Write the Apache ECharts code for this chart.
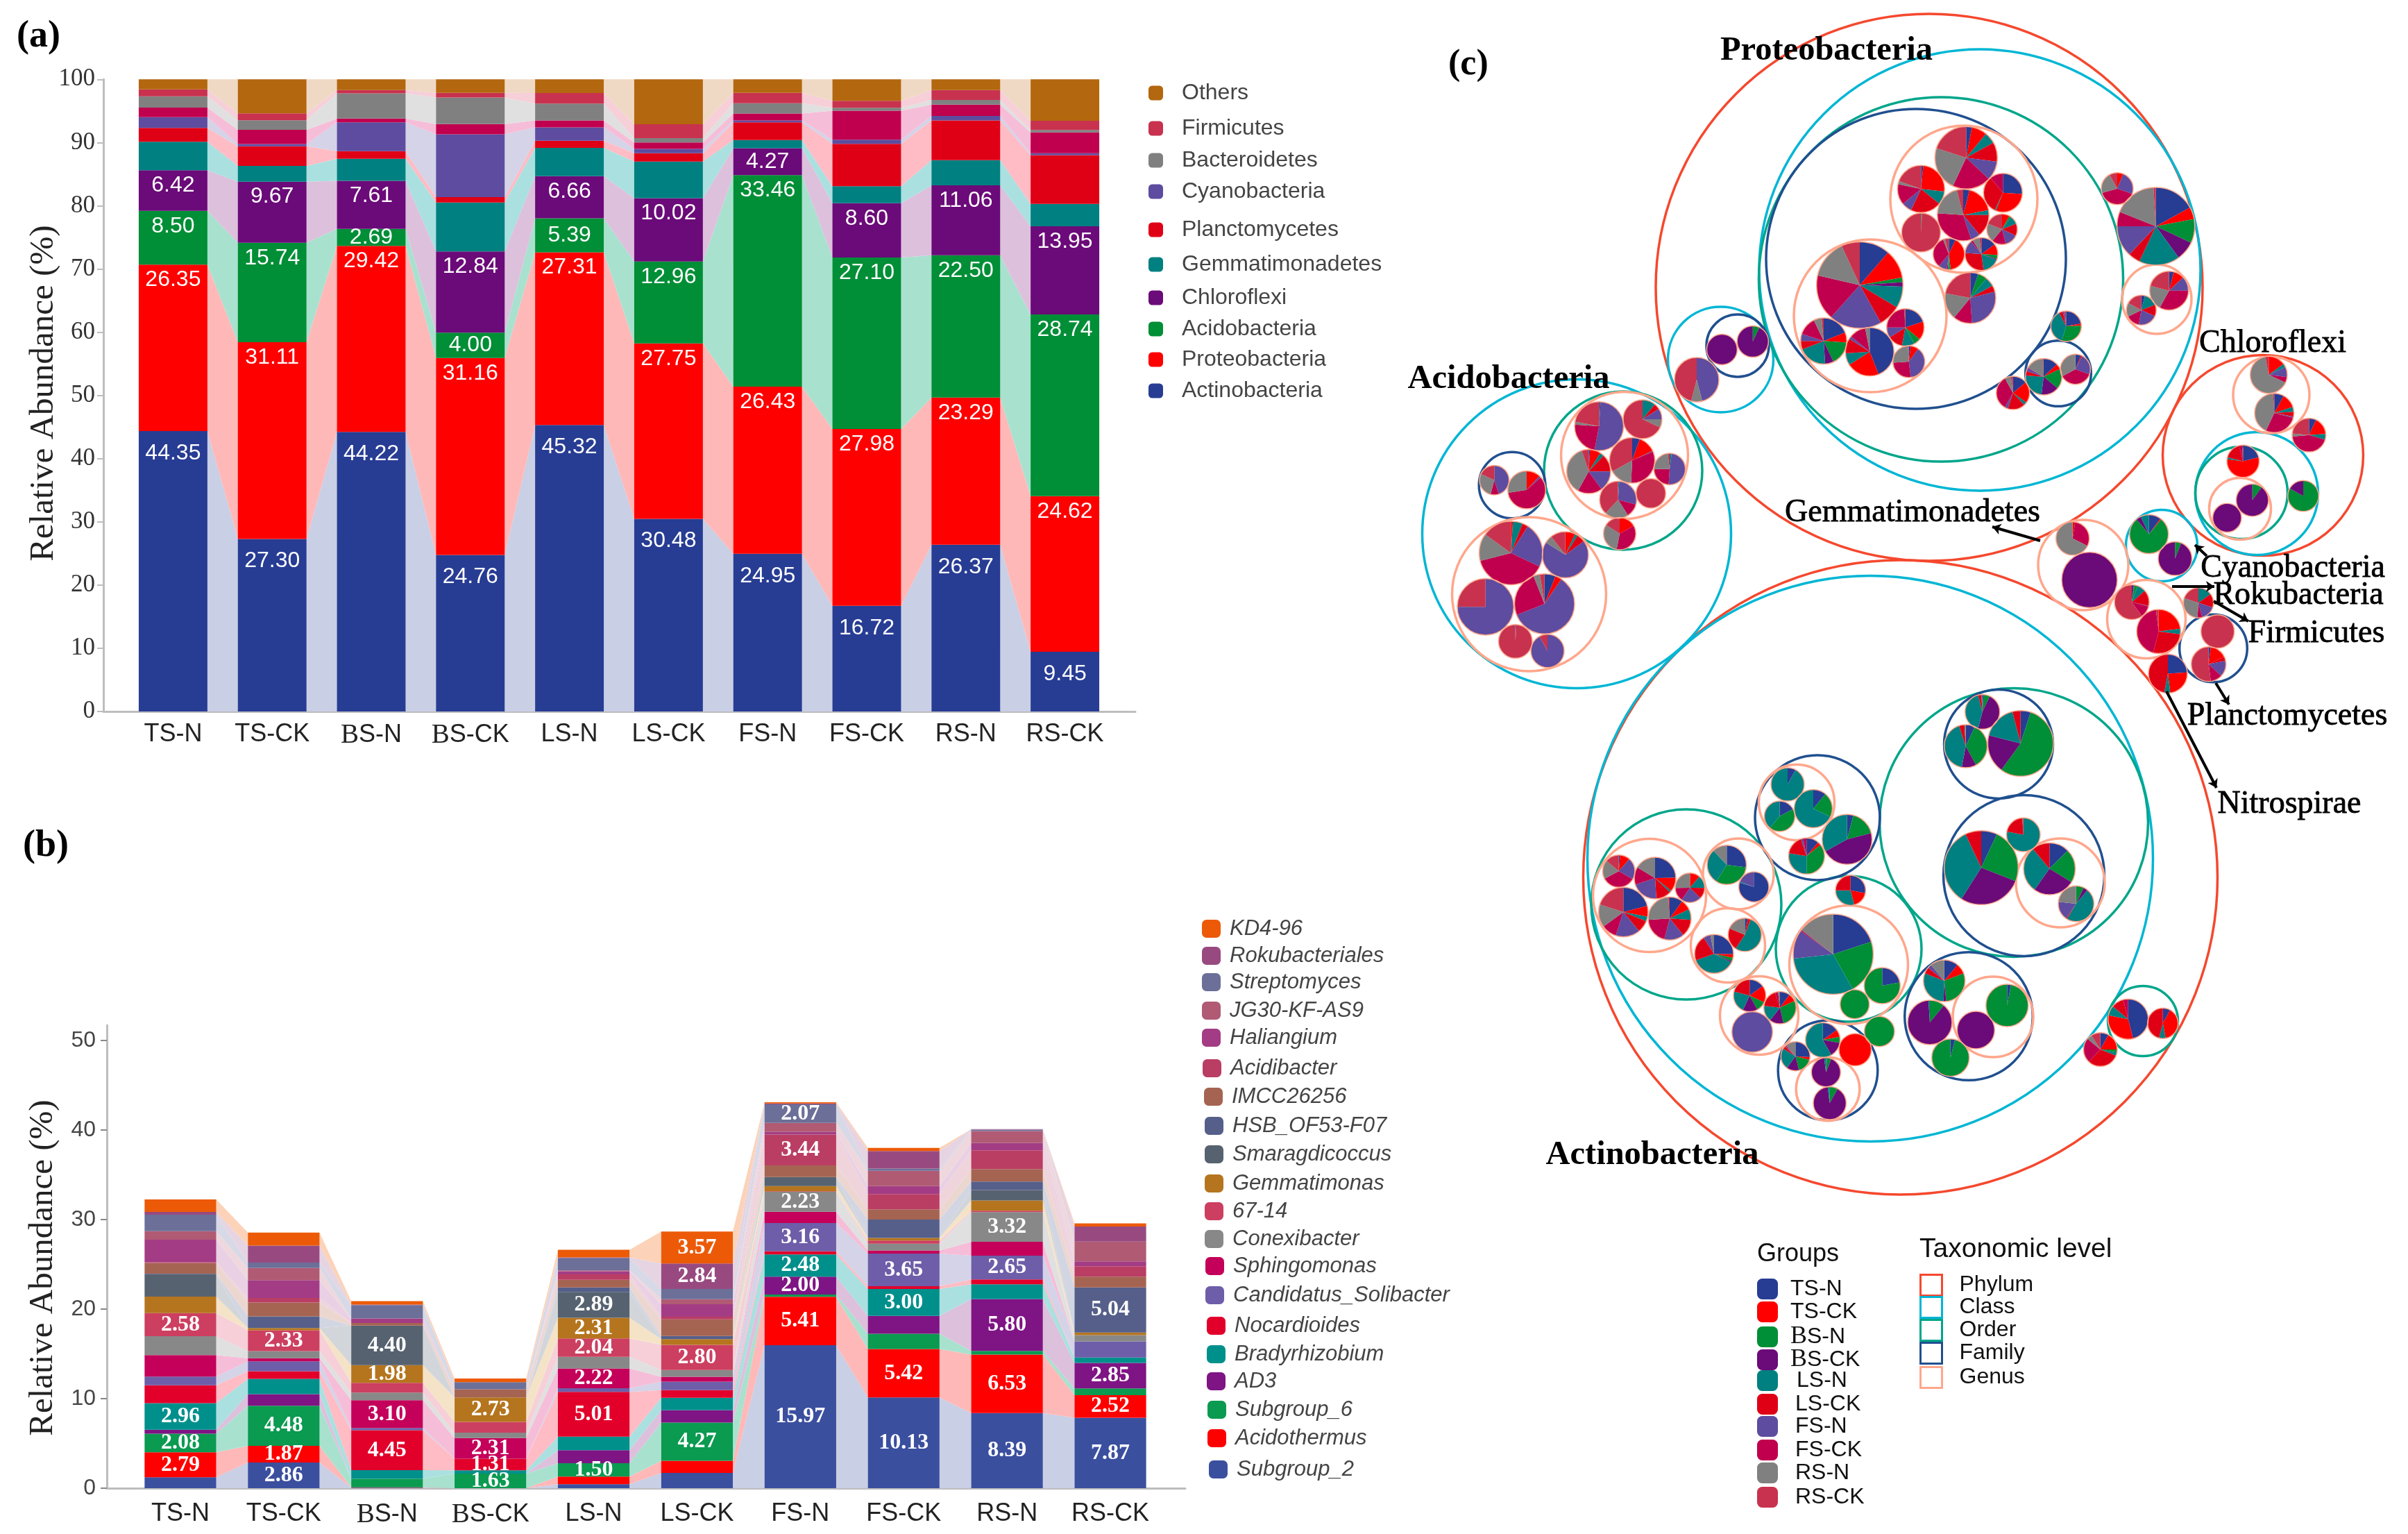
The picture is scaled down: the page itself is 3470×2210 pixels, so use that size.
<!DOCTYPE html>
<html>
<head>
<meta charset="utf-8">
<style>html,body{margin:0;padding:0;background:#fff}#c{width:3470px;height:2210px}</style>
<script src="https://cdn.jsdelivr.net/npm/echarts@6/dist/echarts.min.js"></script>
</head>
<body>
<div id="c"></div>
<script>
// ---------- DATA ----------
const samples = ['TS-N','TS-CK','BS-N','BS-CK','LS-N','LS-CK','FS-N','FS-CK','RS-N','RS-CK'];

// (a) phylum level, bottom to top
const actinobacteria  = [44.35,27.30,44.22,24.76,45.32,30.48,24.95,16.72,26.37,9.45];
const proteobacteria  = [26.35,31.11,29.42,31.16,27.31,27.75,26.43,27.98,23.29,24.62];
const acidobacteria   = [8.50,15.74,2.69,4.00,5.39,12.96,33.46,27.10,22.50,28.74];
const chloroflexi     = [6.42,9.67,7.61,12.84,6.66,10.02,4.27,8.60,11.06,13.95];
const gemmatimonadetes= [4.5,2.5,3.5,7.75,4.47,5.79,1.3,2.7,3.98,3.54];
const planctomycetes  = [2.2,3.1,1.2,0.85,1.15,1.3,2.8,6.7,6.3,7.7];
const cyanobacteria   = [1.7,0.35,4.55,9.95,2.1,0.7,0.3,0.65,0.7,0.3];
const unlistedPhylum  = [1.5,2.25,0.6,1.6,1.1,1.0,1.1,4.6,1.8,3.3];
const bacteroidetes   = [1.8,1.5,4.0,4.2,2.65,0.7,1.6,0.45,0.75,0.4];
const firmicutes      = [1.1,1.1,0.5,0.75,1.7,2.2,1.65,1.1,1.55,1.45];
const others          = [1.58,5.38,1.71,2.14,2.15,7.1,2.14,3.4,1.7,6.55];
const phylaNames = ['Actinobacteria','Proteobacteria','Acidobacteria','Chloroflexi','Gemmatimonadetes','Planctomycetes','Cyanobacteria','Unlisted phylum','Bacteroidetes','Firmicutes','Others'];
const phylaValues = [actinobacteria,proteobacteria,acidobacteria,chloroflexi,gemmatimonadetes,planctomycetes,cyanobacteria,unlistedPhylum,bacteroidetes,firmicutes,others];

// (b) genus level, bottom to top
const subgroup2   = [1.22,2.86,0.05,0,0.45,1.7,15.97,10.13,8.39,7.87];
const acidothermus= [2.79,1.87,0.05,0,0.85,1.36,5.41,5.42,6.53,2.52];
const subgroup6   = [2.08,4.48,0.95,1.63,1.50,4.27,0.25,1.7,0.4,0.75];
const ad3         = [0.45,1.3,0,0,1.45,1.4,2.00,2.0,5.80,2.85];
const bradyrhizobium=[2.96,1.7,0.97,0.36,1.5,1.37,2.48,3.00,1.65,0.6];
const nocardioides= [2.0,0.85,4.45,1.31,5.01,0.85,0.35,0.3,0.55,0];
const solibacter  = [0.97,1.1,0.25,0,0.4,0.95,3.16,3.65,2.65,1.8];
const sphingomonas= [2.4,0.35,3.10,2.31,2.22,0.55,1.25,0.35,1.55,0];
const conexibacter= [2.1,0.8,0.85,0.6,1.3,0.75,2.23,0.75,3.32,0.7];
const g6714       = [2.58,2.33,1.1,1.2,2.04,2.80,0.05,0.35,0.15,0];
const gemmatimonas= [1.85,0.25,1.98,2.73,2.31,0.65,0.6,0.3,1.15,0.3];
const smaragdicoccus=[2.5,0,4.40,0,2.89,0,1.0,0,1.15,0];
const hsb         = [0.05,1.3,0,0,0.5,0.35,0,2.05,0.95,5.04];
const imcc        = [1.2,1.55,0.3,0.9,0.85,1.85,1.3,1.15,1.4,1.2];
const acidibacter = [0.1,0.5,0,0,0.6,0.3,3.44,1.7,2.1,1.15];
const haliangium  = [2.5,2.0,0.5,0,0.35,1.4,0.3,0.9,0.8,0.55];
const jg30        = [0.95,1.35,0,0,0.1,0.55,1.0,1.7,1.35,2.2];
const streptomyces= [1.85,0.6,1.5,0.8,1.4,1.15,2.07,0.25,0.15,0];
const rokubacteriales=[0.3,1.9,0.05,0,0.05,2.84,0.1,1.95,0.05,1.7];
const kd496       = [1.4,1.45,0.4,0.4,0.85,3.57,0.15,0.35,0,0.35];
const generaNames = ['Subgroup_2','Acidothermus','Subgroup_6','AD3','Bradyrhizobium','Nocardioides','Candidatus_Solibacter','Sphingomonas','Conexibacter','67-14','Gemmatimonas','Smaragdicoccus','HSB_OF53-F07','IMCC26256','Acidibacter','Haliangium','JG30-KF-AS9','Streptomyces','Rokubacteriales','KD4-96'];
const generaValues = [subgroup2,acidothermus,subgroup6,ad3,bradyrhizobium,nocardioides,solibacter,sphingomonas,conexibacter,g6714,gemmatimonas,smaragdicoccus,hsb,imcc,acidibacter,haliangium,jg30,streptomyces,rokubacteriales,kd496];
// which genus carries a printed value, per sample
const generaLabelled = [
 ['Acidothermus','Subgroup_6','Bradyrhizobium','67-14'],
 ['Subgroup_2','Acidothermus','Subgroup_6','67-14'],
 ['Nocardioides','Sphingomonas','Gemmatimonas','Smaragdicoccus'],
 ['Subgroup_6','Nocardioides','Sphingomonas','Gemmatimonas'],
 ['Subgroup_6','Nocardioides','Sphingomonas','67-14','Gemmatimonas','Smaragdicoccus'],
 ['Subgroup_6','67-14','Rokubacteriales','KD4-96'],
 ['Subgroup_2','Acidothermus','AD3','Bradyrhizobium','Candidatus_Solibacter','Conexibacter','Acidibacter','Streptomyces'],
 ['Subgroup_2','Acidothermus','Bradyrhizobium','Candidatus_Solibacter'],
 ['Subgroup_2','Acidothermus','AD3','Candidatus_Solibacter','Conexibacter'],
 ['Subgroup_2','Acidothermus','AD3','HSB_OF53-F07']
];

// (c) packed circles: centre x, centre y, radius in the layout space of the panel
const phylumRings = [[2780,414,394],[2738.5,1264,457],[3261,656,144.5]];
const classRings  = [[2853,389,318],[2479.5,518,76],[2272,769,222.5],[2695,1237,407.5],[3252,711,88.5],[3115,786,51.5]];
const orderRings  = [[2797,402.5,262.5],[2339,678,114],[2902,1185,193.5],[2430,1303,137],[2664,1367,105],[3088,1471,50.5],[3230,710,66.5]];
const familyRings = [[2761,373,216],[2966,538,47.3],[2504,498,45],[2179,699,47.8],[2880,1072,78.5],[2916.5,1261.5,116],[2837,1464,92.3],[2619,1178,90],[2634,1542,71.8],[3189.5,934,48.8]];
const genusRings  = [[2830,287,106],[2695,455,110],[3108,431,50],[3273,569,55],[3228,733,44.5],[3002,814,65],[3093,892,56.5],[2341,656,91.5],[2203.5,856,111],[2377,1290,81.5],[2505,1259,51],[2490,1362,53.5],[2535,1463,56.5],[2664,1390,85.5],[2634,1569,45.8],[2872,1465,58],[2969,1272,64],[2589,1156,54.5]];
const pieCentres = [
 [2833.3,227.3,45],[2768.3,272.3,34],[2886.3,277.7,28],[2829,309.7,37.3],[2768.3,335,28],[2885,330.3,22],[2808.3,366,22.7],[2855.3,366,23.7],
 [2680,410.7,62.3],[2628,491.3,33.3],[2694.3,506.7,35],[2745.7,471.7,27],[2750.7,521,23],[2839.3,429.3,36.7],[2977.3,470,22],[2945,542.7,26.3],[2990.7,532,21.7],[2900.7,566,24],
 [3051,271.8,23],[3106.7,325.9,56],[3125.7,418.7,28],[3085.7,446.8,21.5],
 [3269.3,540,26.7],[3277.3,595,28.3],[3327.3,626.8,24.3],[3232.3,664.5,23.3],[3245.7,720.6,23.3],[3209.3,746,20.7],[3319,714.5,22.3],
 [2986.7,775.7,24],[3011,835.4,40],[3096.7,769.6,28],[3134.3,804.8,24.3],[3072,867.5,25],[3110.7,909.8,31.7],[3168,868.5,21.7],[3195.7,909.8,24],[3182.7,956.8,25],[3124,970.5,28],
 [2304.3,614,35.3],[2367,604,28],[2289.3,679.3,31.7],[2352,663.3,32.7],[2406,675.7,22.7],[2331.7,720,26.7],[2379,710.7,21.3],[2334,768.7,23.3],[2153.3,691.7,21.3],[2200,705.7,27.3],[2177.3,796.7,45.7],[2255.7,799.3,33.3],[2140.7,874.3,40.7],[2225.7,870,43.3],[2183.7,924,24.3],[2230,937.7,24],
 [2445,547,32],[2481.4,503.5,22],[2525.8,492,22.6],
 [2332.7,1255,23.3],[2385,1265,30],[2435.3,1279,21.3],[2339.3,1314,35.7],[2406,1323.3,31],[2488.3,1246,28.3],[2527.3,1277.7,21.7],[2470,1374.3,28],[2514.3,1346.7,24],[2521.3,1434.3,23.3],[2565,1451.7,23.3],[2525,1486.7,29.3],
 [2603.3,1233.3,26],[2661.7,1209.3,36],[2576,1130,24],[2613,1165,27.5],[2564.5,1176,22],[2666.7,1282.7,21.7],[2641.7,1374.7,57.7],[2712.3,1420,26],[2672.7,1446.7,21],[2708.3,1486,21.7],[2673.3,1512.3,23.3],[2587.3,1521.7,21],[2626.7,1498.3,25],[2631.3,1544.7,21],[2636.7,1589.3,23.7],
 [2856.7,1025.5,25],[2911.7,1071,47.3],[2832.7,1075,31],[2855,1250,53.3],[2915.7,1202.6,24.3],[2953.3,1251.6,37.3],[2991.7,1302,25.7],[2801.7,1413,30],[2781,1473,32],[2810.7,1523.7,27],[2847.3,1484,27],[2892.3,1448.5,30.5],
 [3066.7,1468.3,29],[3116.7,1474.3,22],[3026.7,1512,24.3]
];
// shares per pie, in order TS-N,TS-CK,BS-N,BS-CK,LS-N,LS-CK,FS-N,FS-CK,RS-N,RS-CK
const pieShares = [
 [3,8,0,0,6,10,10,20,23,20],[1.5,25,0,0,9,21,7,14,2.2,19.3],[26,30,0,0,1,32,0,11,0,0],[4,18,0,0,3,14,6,31,20,4],[0,0,0.8,0,0,0,0,0,0,99.2],[0,8,2,0,9,13,14,15,20,19],[7,41,2,0,1,1,9,33,2,4],[15,11,4,1,17,28,13,2,7,2],
 [11.4,10.8,1.7,1.7,8,8.3,19.7,17,14.5,6.9],[19,7,17,6,20,6,5,13,5.5,1.5],[44,22,0,0,8,10,2,11,3,0],[20,16,6,0,11,13,9,24,0,1],[2,8,0,0,0,0,38,26,25,1],[5,0,6,0,6,4,28,12,17,22],[22,2.5,30,0,38,4,2,0,0,1.5],[13,5,18,16,24,4,3,0.5,16,0.5],[6,0,0,0,0,1.5,23,37,33,0],[14,21,0,0,3,17,3,34,6,2],
 [0,6,0,0,0,0,24,40,21,8],[17,5,10,8,17,5,13,6,18,1],[4,9,0,0,0,0,12,33,21,21],[4,0,0,0,15,12.5,21,15,15,17],
 [0,15,0,0,3,0,9,5,65,3],[8,12,0,0,4,4,1,28,42,1],[7,17,0,0,5.5,0,0,44,3,23.5],[21,56,0,0,2,17,0,3,0,1],[0,0,10,90,0,0,0,0,0,0],[0,0,0,100,0,0,0,0,0,0],[0,0,83,17,0,0,0,0,0,0],
 [0,2.5,0,0,0,0,0,30,67.5,0],[0,0,0,100,0,0,0,0,0,0],[10,1,78,4,7,0,0,0,0,0],[0,0,6,94,0,0,0,0,0,0],[2,0.5,3,0,8,15,0.5,11,0,60],[0,23,0,0,4,27,0,44,0,2],[0,0,0,0,15,15,16,5,29,20],[0,0,0,0,0,0,0,0,0,100],[2,16,0,0,0,4,15,11,0,52],[24,24,0,0,5,47,0,0,0,0],
 [1,0,0,0,0,0,52,23,2,22],[0,0,0,0,11,5,9,0,7,68],[1,8,0,0,3,13,15,18,37,5],[5.5,12.5,0,0,0,0,0.5,32,16,33],[0,0,0,0,2,0,49,24,23,2],[0,0,0,0,1,0,28,12,21,38],[0,0,0,0,0,0,0,0,0,100],[0,17,0,0,0,0,0,36,31,16],[0,0,0,0,0,0,45,9,28,18],[0,12,0,0,0,0,1.5,59,27.5,0],[0,1,0,0,5,3,23,39,14,15],[0,7,0,0,2,6,69,0,5.5,10.5],[0,0,0,0,0,0,75,0,0,25],[6,3.5,0,0,0,0,59.5,25,3.5,2.5],[0,0,0,0,0,0,1,0,0,99],[0,0,0,0,0,0,92,0,0,8],
 [0,0,0,0,0,0,46,0,8,46],[0,0,0,100,0,0,0,0,0,0],[0,0,7,93,0,0,0,0,0,0],
 [1.5,10,0,0,0,0,22,34,19,14],[25,11,0,0,1.5,12,21,14,16.5,0],[0,11,0,0,14,12,22,15,25,0],[21,7,0,0,3,8,16,10,15,20],[10,8,0,0,8,13,15,20,25,1],[27,0,32,0,29,0,0,0,12,0],[78,0,0,0,1,0,19,0,0,0],[25,3,3,1,37,21,6,0,3,0],[3,3,0,0,54,22,0,0,19,0],[15,17,10,15,22,21,0,0,0,0],[10,8,28,14,16,18,0,3,2,0],[0,0,0,0,0,0,100,0,0,0],
 [11,3,35,0,27,17,2,3,0,0],[4,0,17,46,33,0,0,0,0,0],[8,0,0,0,92,0,0,0,0,0],[11,0,21,0,68,0,0,0,0,0],[17,0,44,0,39,0,0,0,0,0],[28,18,0,0,29,25,0,0,0,0],[20,0,22,0,31.4,0,11.6,0.5,14.7,0],[22,0,78,0,0,0,0,0,0,0],[0,0,100,0,0,0,0,0,0,0],[0,0,100,0,0,0,0,0,0,0],[0,100,0,0,0,0,0,0,0,0],[26,3,17,14,24,3,1,1,11,0],[15,7,5.5,14,58,0,0,0,0,0],[1,0,5,92,2,0,0,0,0,0],[0,0,8,90,2,0,0,0,0,0],
 [1,0,6,47,42,3,1,0,0,0],[5,0,55,19,17,4,0,0,0,0],[7,0,35,11,42,4,0,0,1,0],[7,0,24,28,34,7,0,0,0,0],[0,0,0,0,78,21,0,0,0,1],[12.5,0,21,26,29,11,0,0,0,0],[0,0,7,4,47,1,17,0,23,0],[11,8,29,2,30,5,3,0,11,0],[0,0,11,88,1,0,0,0,0,0],[4,0,96,0,0,0,0,0,0,0],[0,0,0,100,0,0,0,0,0,0],[3,0,97,0,0,0,0,0,0,0],
 [46,32,0,0,8,10,0,4,0,0],[8,39,0,0,7,46,0,0,0,0],[8,17,3,0,3,31,0,24,5,9]
];
const taxonLabels = ['Proteobacteria','Acidobacteria','Actinobacteria','Chloroflexi','Gemmatimonadetes','Cyanobacteria','Rokubacteria','Firmicutes','Planctomycetes','Nitrospirae'];
const taxonLabelAnchors = [[2632,73],[2174,546],[2381,1664],[3275,495],[2756,739],[3304,819],[3312,858],[3338,913],[3296,1032],[3299,1159]];
const leaderLines = [[[2940,779],[2871,759]],[[3180,801],[3163,785]],[[3130,845],[3191,845]],[[3190,866],[3240,895]],[[3193,984],[3212,1015]],[[3122,996],[3194,1135]]];

// ---------- STYLE ----------
const phylaColors = ['#273c93','#ff0000','#008e36','#6b0a79','#008080','#e00016','#5d4c9f','#c0004e','#808080','#c8324e','#b3670e'];
const phylaFlow   = ['#c9cfe5','#ffb8b8','#a9e1cf','#ddc0dc','#aae0e0','#ffbcc4','#d4d3e8','#f6bdd8','#e0e0e0','#f6cfd8','#f0d9c4'];
const generaColors= ['#3b4f9f','#ff0000','#0a9a50','#7f1484','#00908c','#e2002b','#6e5da8','#c4005a','#888888','#cc3f60','#b5751e','#566270','#555f8a','#a56452','#ba3e64','#a33c84','#b05a74','#6c6f98','#984a80','#ec5a08'];
const generaFlow  = ['#c9cfe5','#ffb8b8','#a9e1cf','#ddc0dc','#aae0e0','#ffbcc4','#d4d3e8','#f6bdd8','#e0e0e0','#f6cfd8','#f5e3c8','#d2d6da','#d2d5e2','#ecd6d0','#f0d4dc','#ead0e4','#eed8de','#d8d9e6','#e6d4e2','#fcd3b8'];
const groupColors = ['#273c93','#ff0000','#008e36','#6b0a79','#008080','#e00016','#5d4c9f','#c0004e','#808080','#c8324e'];
const ringColors  = {Phylum:'#f5482e',Class:'#00b6d4',Order:'#00a68a',Family:'#20508f',Genus:'#ffa78c'};
const SANS='"Liberation Sans"', SERIF='"Liberation Serif"';

// ---------- BUILDERS ----------
const catLabel = {
  formatter: v => v[0]==='B' ? '{s|B}'+v.slice(1) : v,
  rich:{s:{fontFamily:SERIF,fontSize:39,color:'#222'}},
  fontFamily:SANS,fontSize:36,color:'#222'
};
function stackedPanel(names, values, colors, flow, frac, axisIdx, labelOf){
  const out=[];
  const cum=[]; let base=samples.map(()=>0);
  values.forEach(arr=>{const top=base.map((b,i)=>b+arr[i]);cum.push([base,top]);base=top;});
  names.forEach((n,k)=>{
    const rows=[];
    for(let i=0;i<samples.length-1;i++) rows.push([i,cum[k][0][i],cum[k][1][i],cum[k][0][i+1],cum[k][1][i+1]]);
    out.push({type:'custom',name:n+' flow',xAxisIndex:axisIdx,yAxisIndex:axisIdx,silent:true,z:1,data:rows,encode:{x:0,y:[1,2,3,4]},
      renderItem:(p,api)=>{
        const i=api.value(0),half=api.size([1,0])[0]*frac/2;
        const a0=api.coord([i,api.value(1)]),a1=api.coord([i,api.value(2)]),b0=api.coord([i+1,api.value(3)]),b1=api.coord([i+1,api.value(4)]);
        return {type:'polygon',shape:{points:[[a0[0]+half,a0[1]],[a1[0]+half,a1[1]],[b1[0]-half,b1[1]],[b0[0]-half,b0[1]]]},style:{fill:flow[k]}};
      }});
  });
  names.forEach((n,k)=>{
    out.push({type:'bar',name:n,stack:'s'+axisIdx,xAxisIndex:axisIdx,yAxisIndex:axisIdx,barWidth:(frac*100)+'%',z:2,
      itemStyle:{color:colors[k]},
      data:values[k].map((v,i)=>{const l=labelOf(k,i,v);return l?{value:v,label:l}:v;}),
      label:{show:false}});
  });
  return out;
}
const seriesA = stackedPanel(phylaNames,phylaValues,phylaColors,phylaFlow,0.693,1,(k,i,v)=>{
  if(k>3) return null;
  const small=v<5.5;
  return {show:true,position:small?'inside':'insideTop',distance:k===0?16:6,formatter:p=>p.value.toFixed(2),color:'#fff',fontFamily:SANS,fontSize:32};
});
const seriesB = stackedPanel(generaNames,generaValues,generaColors,generaFlow,0.693,3,(k,i,v)=>{
  if(!generaLabelled[i].includes(generaNames[k])) return null;
  return {show:true,position:'inside',formatter:p=>p.value.toFixed(2),color:'#fff',fontFamily:SERIF,fontWeight:'bold',fontSize:32};
});

// (c)
function ringSeries(name,rows,width,z){
  return {type:'custom',name,xAxisIndex:4,yAxisIndex:4,silent:true,z,clip:false,data:rows,encode:{x:0,y:1},
    itemStyle:{color:ringColors[name]||'#ffa78c'},
    renderItem:(p,api)=>{
      const c=api.coord([api.value(0),api.value(1)]);
      return {type:'circle',shape:{cx:c[0],cy:c[1],r:api.size([api.value(2),0])[0]},style:{fill:'none',stroke:ringColors[name]||'#ffa78c',lineWidth:width}};
    }};
}
function groupSeries(){
  const startTotals=pieShares.map(()=>0);
  const totals=pieShares.map(s=>s.reduce((a,b)=>a+b,0));
  return samples.map((g,k)=>{
    const rows=pieCentres.map((c,i)=>{
      const a0=startTotals[i]/totals[i],v=pieShares[i][k]/totals[i];
      startTotals[i]+=pieShares[i][k];
      return [c[0],c[1],c[2],a0,v];
    });
    return {type:'custom',name:g,xAxisIndex:4,yAxisIndex:4,silent:true,z:3,clip:false,data:rows,encode:{x:0,y:1},
      itemStyle:{color:groupColors[k]},
      renderItem:(p,api)=>{
        if(api.value(4)<=0) return null;
        const c=api.coord([api.value(0),api.value(1)]);
        const s=api.value(3)*2*Math.PI-Math.PI/2,e=(api.value(3)+api.value(4))*2*Math.PI-Math.PI/2;
        return {type:'sector',shape:{cx:c[0],cy:c[1],r:api.size([api.value(2),0])[0],r0:0,startAngle:s,endAngle:e,clockwise:true},style:{fill:groupColors[k]}};
      }};
  });
}
const labelSeries={type:'custom',name:'Phylum names',xAxisIndex:4,yAxisIndex:4,silent:true,z:6,clip:false,data:taxonLabelAnchors,encode:{x:0,y:1},
  renderItem:(p,api)=>{
    const c=api.coord([api.value(0),api.value(1)]);
    const big=p.dataIndex<3;
    return {type:'text',style:{x:c[0],y:c[1],text:taxonLabels[p.dataIndex],fill:'#000',stroke:big?null:'#000',lineWidth:big?0:0.8,
      font:(big?'bold 48.5px ':'46px ')+SERIF,align:'center',verticalAlign:'middle'}};
  }};
const arrowSeries={type:'lines',name:'Leaders',coordinateSystem:'cartesian2d',xAxisIndex:4,yAxisIndex:4,silent:true,z:5,
  symbol:['none','arrow'],symbolSize:12,lineStyle:{color:'#000',width:4,opacity:1,curveness:0},
  data:leaderLines.map(l=>({coords:l}))};

// legends
const legend=[];
const aLegend=[['Others',134],['Firmicutes',185],['Bacteroidetes',231],['Cyanobacteria',276],['Planctomycetes',331],['Gemmatimonadetes',381],['Chloroflexi',429],['Acidobacteria',474],['Proteobacteria',518],['Actinobacteria',563]];
aLegend.forEach(([n,y])=>legend.push({left:1655,top:y-16,padding:0,itemWidth:21,itemHeight:21,selectedMode:false,data:[n],
  textStyle:{fontFamily:SANS,fontSize:32,lineHeight:32,color:'#444',padding:[0,0,0,22]}}));
const bLegend=[['KD4-96',1338,1732],['Rokubacteriales',1377,1732],['Streptomyces',1415,1732],['JG30-KF-AS9',1456,1732],['Haliangium',1495,1732],['Acidibacter',1539,1733],['IMCC26256',1580,1735],['HSB_OF53-F07',1622,1736],['Smaragdicoccus',1663,1736],['Gemmatimonas',1705,1736],['67-14',1745,1736],['Conexibacter',1785,1736],['Sphingomonas',1824,1737],['Candidatus_Solibacter',1866,1737],['Nocardioides',1910,1739],['Bradyrhizobium',1951,1739],['AD3',1990,1739],['Subgroup_6',2031,1740],['Acidothermus',2072,1740],['Subgroup_2',2117,1742]];
bLegend.forEach(([n,y,x])=>legend.push({left:x,top:y-16,padding:0,itemWidth:27,itemHeight:26,selectedMode:false,data:[n],
  textStyle:{fontFamily:SANS,fontStyle:'italic',fontSize:31,lineHeight:32,color:'#444',padding:[0,0,0,8]}}));
const gLegendY=[1857,1890,1924,1957,1989,2023,2055,2089,2122,2157], gLegendPad=[13,13,13,13,22,20,20,20,20,20];
samples.forEach((n,i)=>legend.push({left:2532,top:gLegendY[i]-16,padding:0,itemWidth:30,itemHeight:30,selectedMode:false,data:[n],
  formatter:v=>v[0]==='B'?'{s|B}'+v.slice(1):v,
  textStyle:{fontFamily:SANS,fontSize:32,lineHeight:32,color:'#111',padding:[0,0,0,gLegendPad[i]],rich:{s:{fontFamily:SERIF,fontSize:36,color:'#111'}}}}));
const tLegend=[['Phylum',1851],['Class',1883],['Order',1916],['Family',1949],['Genus',1984]];
tLegend.forEach(([n,y])=>legend.push({left:2766,top:y-16,padding:0,itemWidth:31,itemHeight:30,selectedMode:false,
  data:[{name:n,icon:'rect',itemStyle:{color:'#fff',borderColor:ringColors[n],borderWidth:3}}],
  textStyle:{fontFamily:SANS,fontSize:32,lineHeight:32,color:'#111',padding:[0,0,0,20]}}));

const frameAxis={lineStyle:{color:'#bdbdbd',width:3}};
const option={
  animation:false,backgroundColor:'#fff',
  legend,
  grid:[
    {left:149,top:114.3,width:1487,height:910.7},
    {left:178,top:114.3,width:1428,height:910.7},
    {left:154,top:1477,width:1554,height:667},
    {left:185.5,top:1499,width:1489,height:645},
    {left:2000,top:0,width:1470,height:2210}
  ],
  xAxis:[
    {gridIndex:0,type:'category',data:[''],axisTick:{show:false},axisLabel:{show:false},axisLine:frameAxis},
    {gridIndex:1,type:'category',data:samples,axisTick:{show:false},axisLine:{show:false},axisLabel:Object.assign({margin:15,interval:0},catLabel)},
    {gridIndex:2,type:'category',data:[''],axisTick:{show:false},axisLabel:{show:false},axisLine:frameAxis},
    {gridIndex:3,type:'category',data:samples,axisTick:{show:false},axisLine:{show:false},axisLabel:Object.assign({margin:19,interval:0},catLabel)},
    {gridIndex:4,type:'value',min:2000,max:3470,show:false}
  ],
  yAxis:[
    {gridIndex:0,type:'value',min:0,max:100,splitLine:{show:false},axisTick:{show:false},axisLabel:{show:false},axisLine:Object.assign({show:true},frameAxis),
     name:'Relative Abundance (%)',nameLocation:'middle',nameGap:61,nameRotate:90,nameTextStyle:{fontFamily:SERIF,fontSize:49,color:'#222',padding:[0,0,0,6]}},
    {gridIndex:1,type:'value',min:0,max:100,interval:10,offset:29,splitLine:{show:false},axisLine:{show:false},
     axisTick:{show:true,length:9,lineStyle:{color:'#bdbdbd',width:2}},axisLabel:{margin:12,fontFamily:SERIF,fontSize:35,color:'#333'}},
    {gridIndex:2,type:'value',min:0,max:51.7,splitLine:{show:false},axisTick:{show:false},axisLabel:{show:false},axisLine:Object.assign({show:true},frameAxis),
     name:'Relative Abundance (%)',nameLocation:'middle',nameGap:67,nameRotate:90,nameTextStyle:{fontFamily:SERIF,fontSize:49,color:'#222',padding:[0,32,0,0]}},
    {gridIndex:3,type:'value',min:0,max:50,interval:10,offset:31.5,splitLine:{show:false},axisLine:{show:false},
     axisTick:{show:true,length:9,lineStyle:{color:'#888',width:2}},axisLabel:{margin:16,fontFamily:SANS,fontSize:32,color:'#444'}},
    {gridIndex:4,type:'value',min:0,max:2210,inverse:true,show:false}
  ],
  graphic:[
    {type:'text',left:24,top:26,style:{text:'(a)',font:'bold 54px '+SERIF,fill:'#000'}},
    {type:'text',left:33,top:1192,style:{text:'(b)',font:'bold 54px '+SERIF,fill:'#000'}},
    {type:'text',left:2087,top:68,style:{text:'(c)',font:'bold 52px '+SERIF,fill:'#000'}},
    {type:'text',left:2532,top:1789,style:{text:'Groups',font:'36px '+SANS,fill:'#111'}},
    {type:'text',left:2766,top:1781,style:{text:'Taxonomic level',font:'39px '+SANS,fill:'#111'}}
  ],
  series:[].concat(seriesA,seriesB,
    ringSeries('Phylum',phylumRings,3.5,2),
    ringSeries('Class',classRings,3.5,2),
    ringSeries('Order',orderRings,3.5,2),
    ringSeries('Family',familyRings,3.5,2),
    ringSeries('Genus',genusRings,3.5,2),
    groupSeries(),
    ringSeries('Pie outline',pieCentres,1.5,4),
    [arrowSeries,labelSeries])
};
const chart=echarts.init(document.getElementById('c'));
chart.setOption(option);
</script>
</body>
</html>
